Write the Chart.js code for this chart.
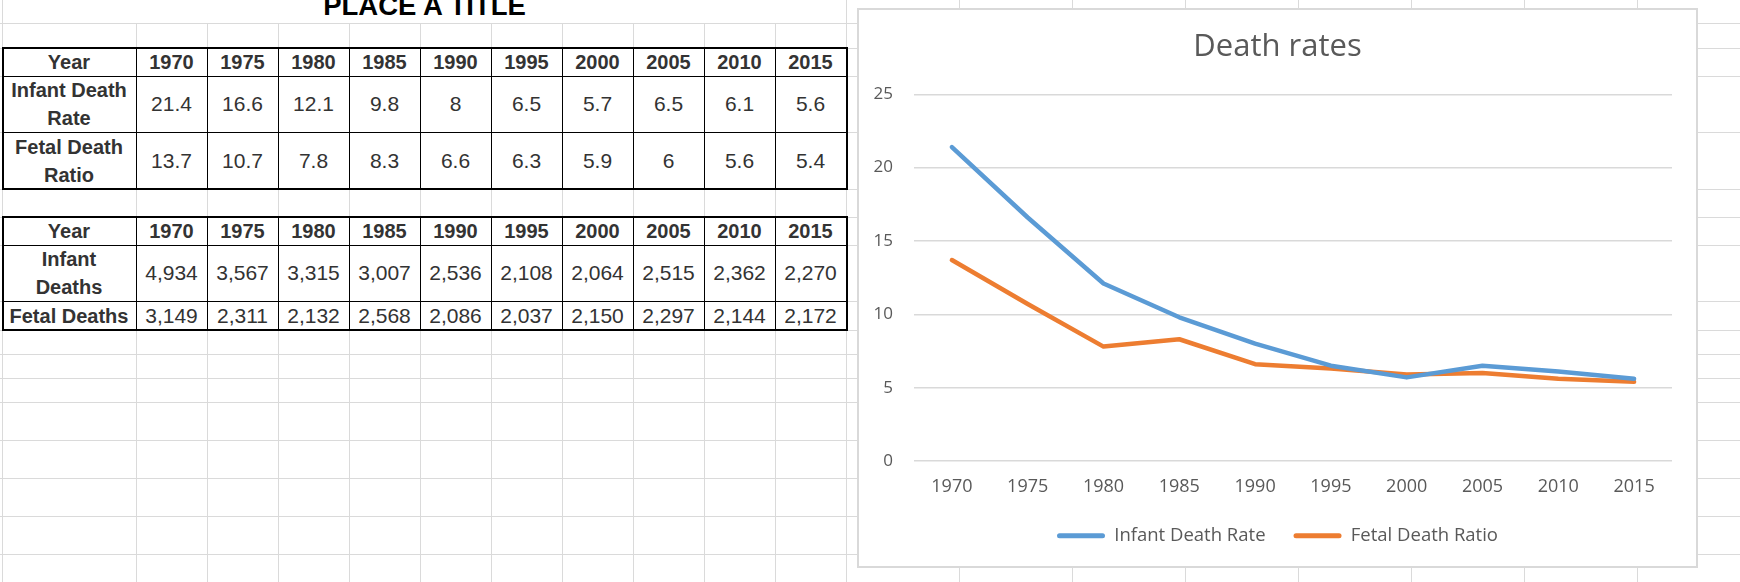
<!DOCTYPE html>
<html>
<head>
<meta charset="utf-8">
<title>Death rates</title>
<script src="https://cdn.jsdelivr.net/npm/chart.js"></script>
<style>
html,body{margin:0;padding:0;background:#fff;}
#sheet{position:relative;width:1740px;height:582px;overflow:hidden;font-family:"Liberation Sans",Arial,sans-serif;}
.gv{position:absolute;width:1px;background:#dadada;}
.gh{position:absolute;left:0;width:1740px;height:1px;background:#dadada;}
.cell{position:absolute;display:flex;align-items:center;justify-content:center;text-align:center;font-size:21px;color:#333;background:#fff;line-height:28px;box-sizing:border-box;}
.cell.b{font-weight:bold;font-size:20px;}
.ln{position:absolute;background:#000;}
#pageTitle{position:absolute;left:2px;width:845px;top:-8px;text-align:center;font-weight:bold;font-size:27.5px;line-height:27.5px;color:#000;}
#chartBox{position:absolute;left:857px;top:8px;width:841px;height:560px;border:2px solid #d9d9d9;box-sizing:border-box;background:#fff;}
#chartBox canvas{display:block;}
</style>
</head>
<body>
<div id="sheet">
  <div id="pageTitle">PLACE A TITLE</div>
  <div id="chartBox"><canvas id="deathChart" width="837" height="556"></canvas></div>
</div>
<script>
// table + chart data
const years = ['1970','1975','1980','1985','1990','1995','2000','2005','2010','2015'];
const infantRate = [21.4,16.6,12.1,9.8,8,6.5,5.7,6.5,6.1,5.6];
const fetalRatio = [13.7,10.7,7.8,8.3,6.6,6.3,5.9,6,5.6,5.4];
const infantDeaths = [4934,3567,3315,3007,2536,2108,2064,2515,2362,2270];
const fetalDeaths = [3149,2311,2132,2568,2086,2037,2150,2297,2144,2172];
const yTicks = [0,5,10,15,20,25];

// spreadsheet layout
const colX = [2,136,207,278,349,420,491,562,633,704,775,846,959,1072,1185,1298,1411,1524,1637];
const rowY = [23,48,76,132,189,217,245,301,330,354,378,402,440,478,516,554];

const sheet = document.getElementById('sheet');
const chartBox = document.getElementById('chartBox');

function el(cls, css, html){
  const d = document.createElement('div');
  d.className = cls;
  Object.assign(d.style, css);
  if (html !== undefined) d.innerHTML = html;
  sheet.insertBefore(d, chartBox);
  return d;
}

rowY.forEach(y => el('gh', {top: y + 'px'}));
colX.forEach(x => {
  const top = (x > 2 && x < 846) ? 23 : 0;
  el('gv', {left: x + 'px', top: top + 'px', height: (582 - top) + 'px'});
});

function drawTable(top, heights, rows){
  let y = top;
  const ys = [top];
  heights.forEach(h => { y += h; ys.push(y); });
  rows.forEach((row, r) => {
    row.forEach((txt, c) => {
      const bold = r === 0 || c === 0;
      el('cell' + (bold ? ' b' : ''), {
        left: colX[c] + 'px', top: ys[r] + 'px',
        width: (colX[c + 1] - colX[c]) + 'px', height: heights[r] + 'px'
      }, txt);
    });
  });
  const left = colX[0], right = colX[11];
  for (let c = 1; c < 11; c++) el('ln', {left: colX[c] + 'px', top: top + 'px', width: '1px', height: (y - top) + 'px'});
  for (let r = 1; r < heights.length; r++) el('ln', {left: left + 'px', top: ys[r] + 'px', width: (right - left) + 'px', height: '1px'});
  el('ln', {left: left + 'px', top: (top - 1) + 'px', width: (right - left + 2) + 'px', height: '2px'});
  el('ln', {left: left + 'px', top: (y - 1) + 'px', width: (right - left + 2) + 'px', height: '2px'});
  el('ln', {left: left + 'px', top: top + 'px', width: '2px', height: (y - top) + 'px'});
  el('ln', {left: right + 'px', top: top + 'px', width: '2px', height: (y - top) + 'px'});
}

const fmt = n => n.toLocaleString('en-US');

drawTable(48, [28, 56, 57], [
  ['Year', ...years],
  ['Infant Death<br>Rate', ...infantRate],
  ['Fetal Death<br>Ratio', ...fetalRatio]
]);

drawTable(217, [28, 56, 29], [
  ['Year', ...years],
  ['Infant<br>Deaths', ...infantDeaths.map(fmt)],
  ['Fetal Deaths', ...fetalDeaths.map(fmt)]
]);

Chart.defaults.font.family = "'Open Sans', sans-serif";
Chart.defaults.color = '#595959';

new Chart(document.getElementById('deathChart'), {
  type: 'line',
  data: {
    labels: years,
    datasets: [{
      label: 'Infant Death Rate',
      data: infantRate,
      borderColor: '#5b9bd5',
      backgroundColor: '#5b9bd5',
      borderWidth: 4.5,
      pointRadius: 0,
      tension: 0,
      borderCapStyle: 'round',
      borderJoinStyle: 'round'
    }, {
      label: 'Fetal Death Ratio',
      data: fetalRatio,
      borderColor: '#ed7d31',
      backgroundColor: '#ed7d31',
      borderWidth: 4.5,
      pointRadius: 0,
      tension: 0,
      borderCapStyle: 'round',
      borderJoinStyle: 'round'
    }]
  },
  options: {
    responsive: false,
    animation: false,
    layout: {padding: {left: 0, right: 0, top: 0, bottom: 11}},
    plugins: {
      title: {
        display: true,
        text: 'Death rates',
        color: '#595959',
        font: {size: 31, weight: 'normal'},
        padding: {top: 18.4, bottom: 28.7}
      },
      legend: {
        position: 'bottom',
        labels: {
          color: '#595959',
          font: {size: 18.5},
          boxWidth: 48,
          boxHeight: 5,
          padding: 28,
          useBorderRadius: true,
          borderRadius: 2.5,
          generateLabels(chart){
            return Chart.defaults.plugins.legend.labels.generateLabels(chart)
              .map(l => Object.assign(l, {lineWidth: 0, fillStyle: l.strokeStyle, borderRadius: 2.5}));
          }
        }
      },
      tooltip: {enabled: false}
    },
    scales: {
      x: {
        offset: true,
        grid: {display: false, drawTicks: false},
        border: {display: false},
        ticks: {color: '#595959', font: {size: 18}, padding: 15, maxRotation: 0},
        afterFit(s){ s.height = 37.5; }
      },
      y: {
        min: yTicks[0],
        max: yTicks[yTicks.length - 1],
        afterBuildTicks(s){ s.ticks = yTicks.map(v => ({value: v})); },
        ticks: {color: '#595959', font: {size: 17}, padding: 21},
        grid: {color: '#d9d9d9', lineWidth: 1.5, drawTicks: false},
        border: {display: false},
        afterFit(s){ s.width = 55; }
      },
      yRight: {
        position: 'right',
        grid: {display: false, drawTicks: false},
        border: {display: false},
        ticks: {display: false},
        afterFit(s){ s.width = 24; }
      }
    }
  }
});
</script>
</body>
</html>
